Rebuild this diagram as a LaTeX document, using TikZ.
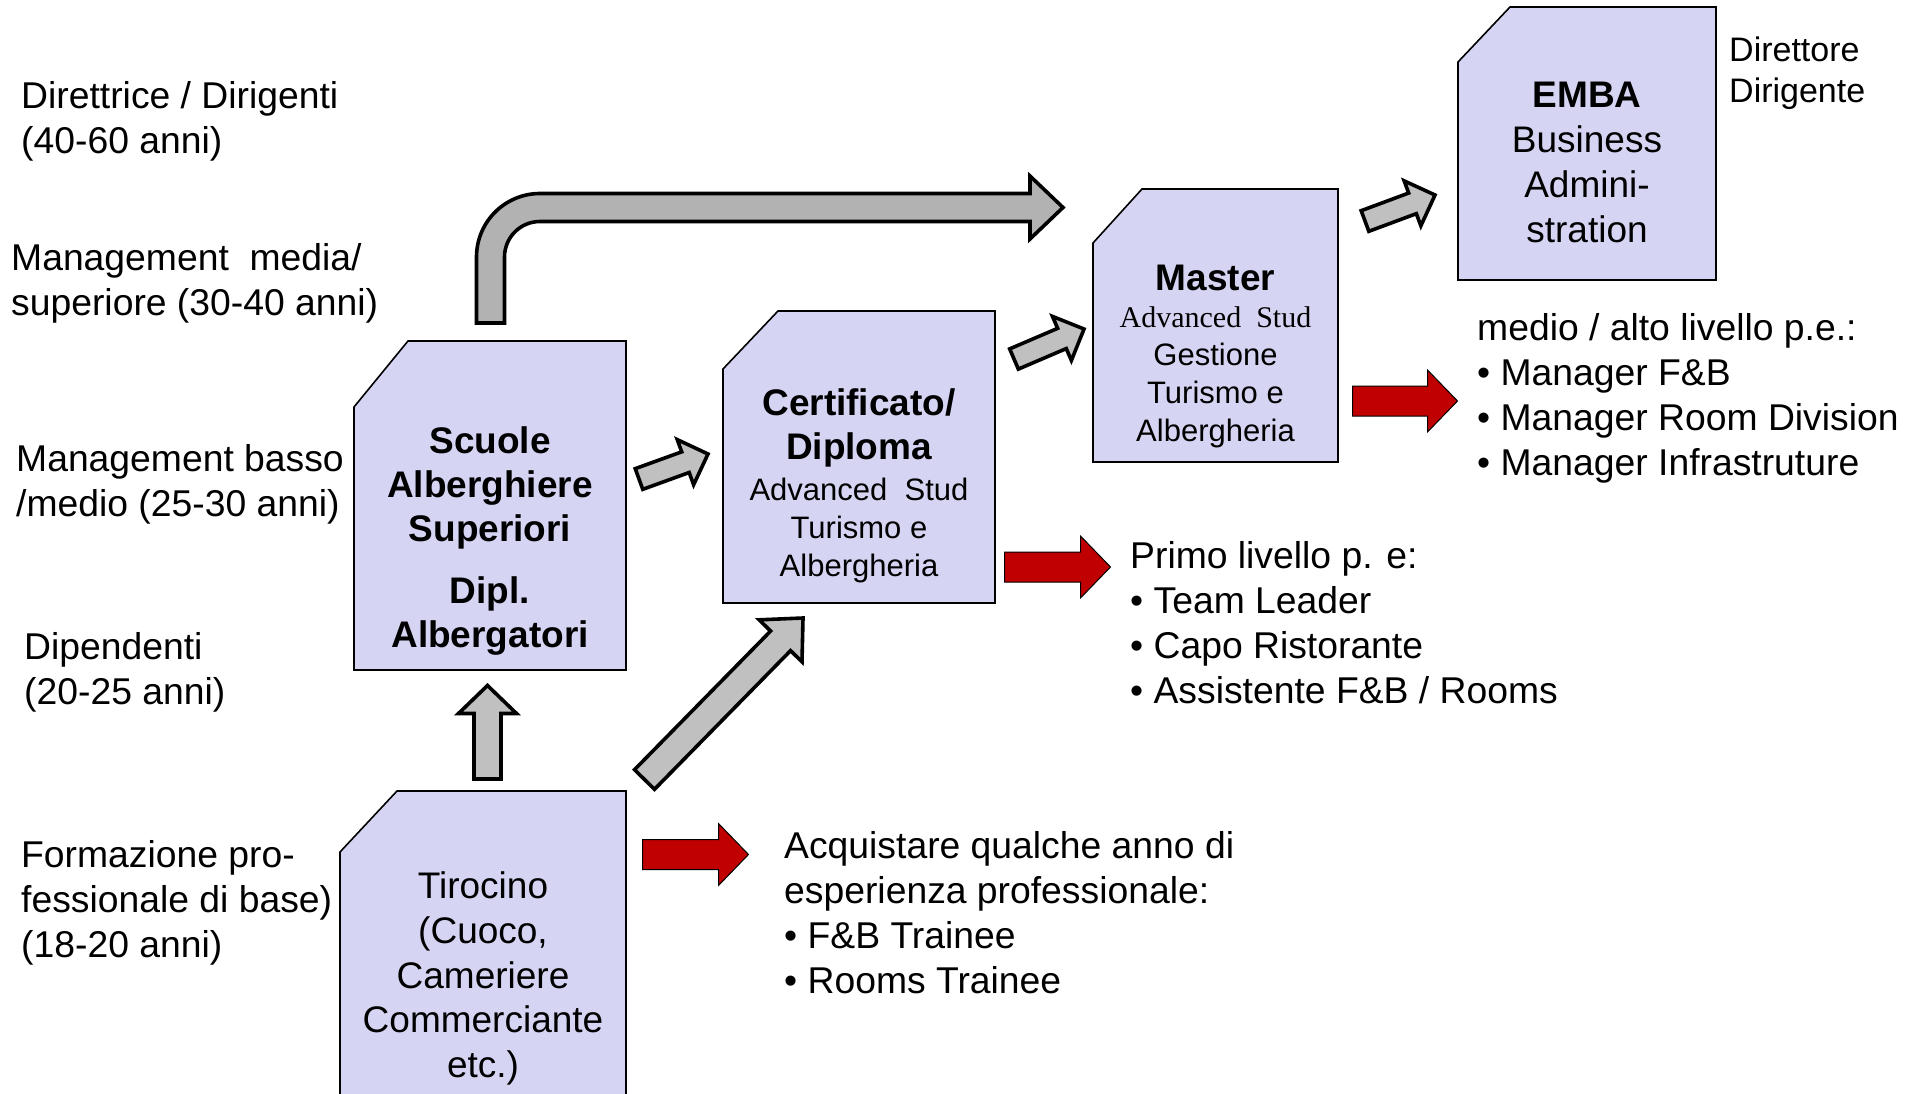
\documentclass[tikz,border=0pt]{standalone}
\usepackage{fontspec}
\setmainfont{Liberation Sans}
\newfontfamily\timesf{Liberation Serif}
\usetikzlibrary{calc}
\definecolor{boxfill}{RGB}{213,213,243}
\definecolor{arrgray}{RGB}{192,192,192}
\definecolor{bentgray}{RGB}{178,178,178}
\definecolor{arrred}{RGB}{192,0,0}
\newcommand\fsz[2]{\fontsize{#1}{#2}\selectfont}
% block arrow: style, start, end, half shaft, half head, head length
\newcommand\blockarrow[6]{%
  \coordinate (bahead) at ($(#3)!#6!(#2)$);
  \draw[#1] ($(#2)!#4!90:(#3)$) -- ($(bahead)!#4!90:(#3)$) -- ($(bahead)!#5!90:(#3)$)
     -- (#3) -- ($(bahead)!#5!-90:(#3)$) -- ($(bahead)!#4!-90:(#3)$) -- ($(#2)!#4!-90:(#3)$) -- cycle;}
% document box with cut corner
\newcommand\docbox[3]{%
  \draw[boxline] ([xshift=#2pt]#1.north west) -- (#1.north east) -- (#1.south east)
     -- (#1.south west) -- ([yshift=-#3pt]#1.north west) -- cycle;}
\begin{document}
\begin{tikzpicture}[x=1pt,y=-1pt,
  boxn/.style={inner sep=0pt, outer sep=0pt, draw=none},
  boxline/.style={draw=black, line width=1.6pt, fill=boxfill, line join=miter},
  lbl/.style={inner sep=0pt, anchor=north west, align=left, font=\fsz{37.3}{45}},
  boxtxt/.style={inner sep=0pt, anchor=north, align=center},
  grayarrow/.style={draw=black, line width=3.6pt, fill=arrgray, line join=miter, miter limit=10},
  bentarrow/.style={draw=black, line width=3.6pt, fill=bentgray, line join=miter, miter limit=10},
  redarrow/.style={draw=black, line width=1pt, fill=arrred, line join=miter, miter limit=10},
]
\fill[white] (0,0) rectangle (1907,1094);
\useasboundingbox (0,0) rectangle (1907,1094);

% ---- boxes
\node[boxn, minimum width=272pt, minimum height=329pt] (scuole) at (490,505.5) {};
\node[boxn, minimum width=272pt, minimum height=292pt] (cert) at (859,457) {};
\node[boxn, minimum width=245pt, minimum height=273pt] (master) at (1215.5,325.5) {};
\node[boxn, minimum width=258pt, minimum height=273pt] (emba) at (1587,143.5) {};
\node[boxn, minimum width=286pt, minimum height=323pt] (tirocino) at (483,952.5) {};
\docbox{scuole}{54}{66}
\docbox{cert}{55}{58}
\docbox{master}{49}{54}
\docbox{emba}{52}{55}
\docbox{tirocino}{57}{61}

% ---- box texts
\node[boxtxt, font=\fsz{37}{44}\bfseries] (scuoleT) at (490,426)
  {Scuole\\Alberghiere\\Superiori\\[18pt]Dipl.\\Albergatori};
\node[boxtxt, font=\fsz{31}{38}] (certT) at (859,388)
  {{\fsz{37}{44}\bfseries Certificato/}\\[6pt]{\fsz{37}{44}\bfseries Diploma}\\[3pt]Advanced\ \ Stud\\Turismo e\\Albergheria};
\node[boxtxt, font=\fsz{31}{38}] (masterT) at (1215.5,265)
  {{\fsz{37}{44}\bfseries Master}\\[-1pt]{\timesf\fsz{30}{36}Advanced\ \ Stud}\\Gestione\\Turismo e\\Albergheria};
\node[boxtxt, font=\fsz{37}{45}] (embaT) at (1587,82)
  {\textbf{EMBA}\\Business\\Admini-\\stration};
\node[boxtxt, font=\fsz{37}{44.75}] (tiroT) at (483,871.5)
  {Tirocino\\(Cuoco,\\Cameriere\\Commerciante\\etc.)};

% ---- left labels
\node[lbl] (l1) at (21,81) {Direttrice / Dirigenti\\(40-60 anni)};
\node[lbl] (l2) at (11,243) {Management\ \ media/\\superiore (30-40 anni)};
\node[lbl] (l3) at (16,444) {Management basso\\/medio (25-30 anni)};
\node[lbl] (l4) at (24,632) {Dipendenti\\(20-25 anni)};
\node[lbl] (l5) at (21,840) {Formazione pro-\\fessionale di base)\\(18-20 anni)};

% ---- right texts
\node[lbl, font=\fsz{34}{41}] (dir) at (1729,37) {Direttore\\Dirigente};
\node[lbl] (alto) at (1477,313) {medio / alto livello p.e.:\\• Manager F\&B\\• Manager Room Division\\• Manager Infrastruture};
\node[lbl] (primo) at (1130,541) {Primo livello p. e:\\• Team Leader\\• Capo Ristorante\\• Assistente F\&B / Rooms};
\node[lbl] (acq) at (784,831) {Acquistare qualche anno di\\esperienza professionale:\\• F\&B Trainee\\• Rooms Trainee};

% ---- arrow end points
\coordinate (upS) at (487.5,779);   \coordinate (upE) at (487.5,685.5);
\coordinate (dgS) at (644.5,779.5); \coordinate (dgE) at (803,618);
\coordinate (aS) at (639,479);      \coordinate (aE) at (708,454);
\coordinate (bS) at (1014,359);     \coordinate (bE) at (1084,329);
\coordinate (cS) at (1365,221);     \coordinate (cE) at (1435,195);
\coordinate (r1S) at (642.5,854.5); \coordinate (r1E) at (748.5,854.5);
\coordinate (r2S) at (1004.5,567);  \coordinate (r2E) at (1110.5,567);
\coordinate (r3S) at (1352.5,401);  \coordinate (r3E) at (1457.5,401);

% ---- gray arrows
\blockarrow{grayarrow}{upS}{upE}{13.5pt}{29pt}{28pt}
\blockarrow{grayarrow}{dgS}{dgE}{14pt}{30pt}{32pt}
\blockarrow{grayarrow}{aS}{aE}{11pt}{24pt}{24pt}
\blockarrow{grayarrow}{bS}{bE}{11pt}{24pt}{24pt}
\blockarrow{grayarrow}{cS}{cE}{11pt}{24pt}{24pt}

% ---- red arrows
\blockarrow{redarrow}{r1S}{r1E}{15pt}{31pt}{30pt}
\blockarrow{redarrow}{r2S}{r2E}{15pt}{31pt}{30pt}
\blockarrow{redarrow}{r3S}{r3E}{15pt}{31pt}{30pt}

% ---- bent arrow from Scuole
\coordinate (bentS) at (490.5,323);
\coordinate (bentE) at (1063,207.5);
\draw[bentarrow] ($(bentS)+(-14,0)$) -- (476.5,257) arc[start angle=180, end angle=270, radius=63.5]
  -- (1030,193.5) -- (1030,176) -- (bentE) -- (1030,239) -- (1030,221.5) -- (540,221.5)
  arc[start angle=270, end angle=180, radius=35.5] -- ($(bentS)+(14,0)$) -- cycle;
\end{tikzpicture}
\end{document}
